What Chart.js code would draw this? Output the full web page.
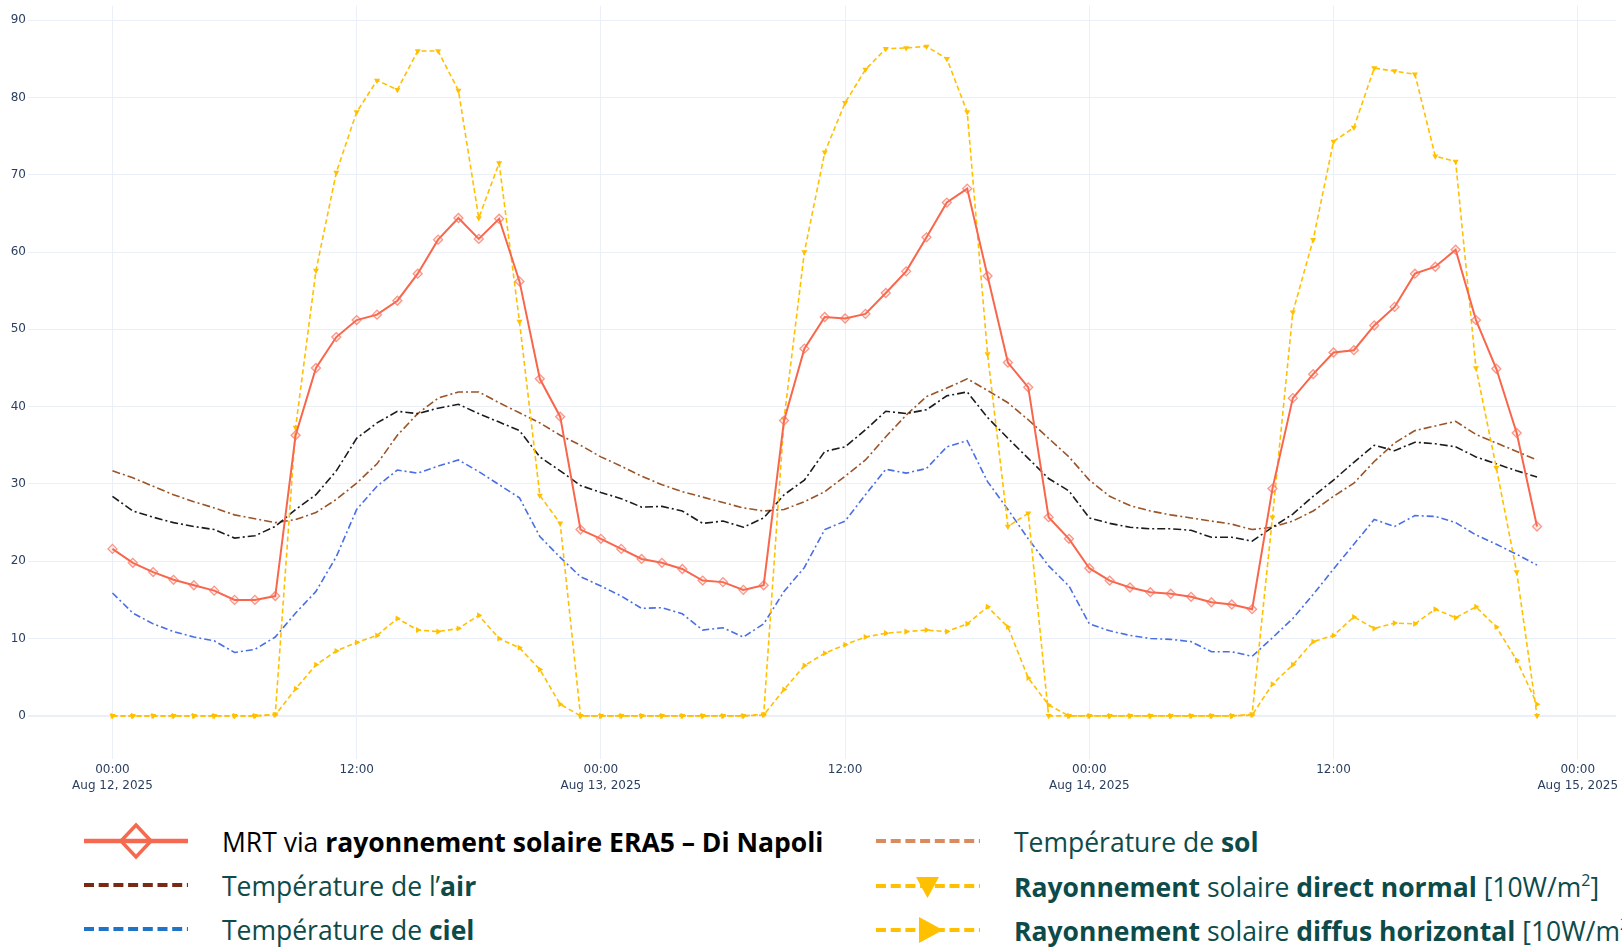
<!DOCTYPE html>
<html lang="fr">
<head>
<meta charset="utf-8">
<title>MRT via rayonnement solaire ERA5</title>
<script src="https://cdn.jsdelivr.net/npm/chart.js@4.4.1/dist/chart.umd.min.js"></script>
<style>
  html, body { margin: 0; padding: 0; background: #fff; }
  body { width: 1622px; height: 947px; position: relative; overflow: hidden; }
  #chartBox { position: absolute; left: 0; top: 0; width: 1622px; height: 800px; }
  .lg { position: absolute; height: 40px; width: 760px; }
  .lg svg { position: absolute; left: 0; top: 0; }
  .lg .txt { position: absolute; top: 1px; line-height: 40px; white-space: nowrap;
             font-family: "Open Sans", sans-serif; font-size: 26.5px; color: #0d4b4b; }
  .lg .txt b { font-weight: 700; }
  .lg .txt sup { font-size: 16px; line-height: 0; vertical-align: 11px; }
</style>
</head>
<body>
<div id="chartBox"><canvas id="chart"></canvas></div>

<!-- legend, left column -->
<div class="lg" style="left:84px; top:821px;">
  <svg width="106" height="40">
    <line x1="0" y1="20" x2="104" y2="20" stroke="#f4694f" stroke-width="4.5"/>
    <polygon points="52,4 67,20 52,36 37,20" fill="none" stroke="#f4694f" stroke-width="3.5"/>
  </svg>
  <span class="txt" style="left:138px; color:#000;">MRT via <b>rayonnement solaire ERA5 – Di Napoli</b></span>
</div>
<div class="lg" style="left:84px; top:865px;">
  <svg width="106" height="40">
    <line x1="0" y1="20" x2="104" y2="20" stroke="#7a2a14" stroke-width="4" stroke-dasharray="10,4.7"/>
  </svg>
  <span class="txt" style="left:138px;">Température de l’<b>air</b></span>
</div>
<div class="lg" style="left:84px; top:909px;">
  <svg width="106" height="40">
    <line x1="0" y1="20" x2="104" y2="20" stroke="#1f74c8" stroke-width="4" stroke-dasharray="10,4.7"/>
  </svg>
  <span class="txt" style="left:138px;">Température de <b>ciel</b></span>
</div>

<!-- legend, right column -->
<div class="lg" style="left:876px; top:821px;">
  <svg width="106" height="40">
    <line x1="0" y1="20" x2="104" y2="20" stroke="#d98a5e" stroke-width="4" stroke-dasharray="10,4.7"/>
  </svg>
  <span class="txt" style="left:138px;">Température de <b>sol</b></span>
</div>
<div class="lg" style="left:876px; top:866px;">
  <svg width="106" height="40">
    <line x1="0" y1="20" x2="104" y2="20" stroke="#ffc000" stroke-width="4" stroke-dasharray="10,4.7"/>
    <polygon points="40,11 63,11 51.5,32" fill="#ffc000"/>
  </svg>
  <span class="txt" style="left:138px;"><b>Rayonnement</b> solaire <b>direct normal</b> [10W/m<sup>2</sup>]</span>
</div>
<div class="lg" style="left:876px; top:910px;">
  <svg width="106" height="40">
    <line x1="0" y1="20" x2="104" y2="20" stroke="#ffc000" stroke-width="4" stroke-dasharray="10,4.7"/>
    <polygon points="43,7 67,20 43,33" fill="#ffc000"/>
  </svg>
  <span class="txt" style="left:138px;"><b>Rayonnement</b> solaire <b>diffus horizontal</b> [10W/m<sup>2</sup>]</span>
</div>

<script>
// hours since Aug 12, 2025 00:00
const hours = [0, 1, 2, 3, 4, 5, 6, 7, 8, 9, 10, 11, 12, 13, 14, 15, 16, 17, 18, 19, 20, 21, 22, 23,
    24, 25, 26, 27, 28, 29, 30, 31, 32, 33, 34, 35, 36, 37, 38, 39, 40, 41, 42, 43, 44, 45, 46, 47,
    48, 49, 50, 51, 52, 53, 54, 55, 56, 57, 58, 59, 60, 61, 62, 63, 64, 65, 66, 67, 68, 69, 70];

const mrt = [21.6, 19.8, 18.6, 17.6, 16.9, 16.2, 15.0, 15.0, 15.5, 36.3, 45.0, 49.0, 51.2, 51.9, 53.7, 57.2,
    61.6, 64.4, 61.7, 64.3, 56.2, 43.6, 38.7, 24.1, 22.9, 21.6, 20.3, 19.8, 19.0, 17.5, 17.3, 16.3,
    16.9, 38.2, 47.5, 51.6, 51.4, 52.0, 54.7, 57.5, 61.9, 66.4, 68.2, 56.9, 45.7, 42.5, 25.7, 22.9,
    19.1, 17.5, 16.6, 16.0, 15.8, 15.4, 14.7, 14.4, 13.8, 29.4, 41.1, 44.2, 47.0, 47.3, 50.5, 52.9,
    57.2, 58.1, 60.3, 51.2, 44.9, 36.6, 24.5];

const airTemp = [28.4, 26.5, 25.7, 25.0, 24.5, 24.1, 23.0, 23.3, 24.5, 26.7, 28.6, 31.7, 35.9, 37.9, 39.4, 39.1,
    39.8, 40.3, 39.1, 38.0, 36.9, 33.5, 31.7, 29.8, 28.9, 28.1, 27.0, 27.1, 26.5, 24.9, 25.2, 24.4,
    25.6, 28.6, 30.5, 34.2, 34.8, 37.0, 39.4, 39.1, 39.6, 41.4, 41.9, 38.6, 35.9, 33.3, 30.7, 29.1,
    25.6, 24.9, 24.4, 24.2, 24.2, 24.0, 23.1, 23.1, 22.6, 24.4, 26.1, 28.4, 30.5, 32.8, 35.0, 34.3,
    35.4, 35.2, 34.8, 33.5, 32.6, 31.7, 30.9];

const skyTemp = [15.9, 13.3, 11.9, 10.9, 10.2, 9.7, 8.2, 8.6, 10.2, 13.3, 16.1, 20.6, 26.7, 29.7, 31.8, 31.4,
    32.3, 33.1, 31.6, 29.9, 28.2, 23.2, 20.5, 18.0, 16.8, 15.5, 13.9, 14.0, 13.2, 11.1, 11.4, 10.2,
    11.9, 16.1, 19.2, 24.1, 25.2, 28.6, 31.9, 31.4, 32.0, 34.8, 35.6, 30.3, 26.7, 22.9, 19.4, 16.8,
    11.9, 11.0, 10.4, 10.0, 9.9, 9.6, 8.3, 8.3, 7.7, 10.1, 12.6, 15.7, 19.0, 22.2, 25.4, 24.5,
    25.9, 25.8, 25.0, 23.4, 22.2, 20.9, 19.5];

const groundTemp = [31.7, 30.8, 29.7, 28.6, 27.7, 26.9, 26.0, 25.5, 25.0, 25.4, 26.3, 28.0, 30.1, 32.6, 36.3, 39.1,
    41.1, 41.9, 41.9, 40.5, 39.2, 37.9, 36.3, 35.0, 33.5, 32.3, 31.0, 29.9, 29.0, 28.3, 27.6, 26.9,
    26.5, 26.7, 27.7, 29.0, 31.0, 33.1, 36.1, 38.9, 41.3, 42.4, 43.6, 42.1, 40.5, 38.3, 35.9, 33.5,
    30.5, 28.4, 27.2, 26.5, 26.0, 25.6, 25.2, 24.8, 24.1, 24.4, 25.2, 26.5, 28.4, 30.1, 32.9, 35.3,
    36.9, 37.5, 38.1, 36.4, 35.3, 34.2, 33.1];

// solar radiation, in units of 10 W/m2
const directNormal = [0, 0, 0, 0, 0, 0, 0, 0, 0.2, 37.3, 57.6, 70.3, 78.1, 82.2, 81.0, 86.0,
    86.0, 80.9, 64.4, 71.5, 51.0, 28.5, 24.9, 0, 0, 0, 0, 0, 0, 0, 0, 0,
    0.2, 38.4, 60.0, 72.9, 79.3, 83.6, 86.3, 86.4, 86.6, 85.0, 78.1, 46.8, 24.5, 26.2, 0, 0,
    0, 0, 0, 0, 0, 0, 0, 0, 0.2, 25.7, 52.2, 61.6, 74.3, 76.1, 83.8, 83.4,
    83.0, 72.4, 71.7, 45.0, 32.1, 18.6, 0];

const diffuseHoriz = [0, 0, 0, 0, 0, 0, 0, 0, 0.1, 3.5, 6.6, 8.4, 9.5, 10.4, 12.6, 11.1,
    10.9, 11.3, 13.0, 10.0, 8.8, 6.0, 1.5, 0, 0, 0, 0, 0, 0, 0, 0, 0,
    0.1, 3.4, 6.5, 8.1, 9.2, 10.2, 10.7, 10.9, 11.1, 10.9, 11.9, 14.1, 11.5, 4.9, 1.4, 0,
    0, 0, 0, 0, 0, 0, 0, 0, 0.1, 4.1, 6.6, 9.6, 10.4, 12.8, 11.3, 12.0,
    11.9, 13.8, 12.7, 14.1, 11.5, 7.2, 1.5];

// axis ticks
const xTickHours = [0, 12, 24, 36, 48, 60, 72];
const xTickTimes = ['00:00', '12:00', '00:00', '12:00', '00:00', '12:00', '00:00'];
const xTickDates = ['Aug 12, 2025', '', 'Aug 13, 2025', '', 'Aug 14, 2025', '', 'Aug 15, 2025'];
const yTickValues = [0, 10, 20, 30, 40, 50, 60, 70, 80, 90];

const toPoints = values => hours.map((h, i) => ({ x: h, y: values[i] }));

const GOLD = '#ffc000';
const gridColor = '#ebf0f8';
const tickColor = '#2a3f5f';

// drop the label padding chart.js adds at the axis ends
const noEdgePadding = scale => {
    scale.paddingTop = 0;
    scale.paddingBottom = 0;
    scale.paddingLeft = 0;
    scale.paddingRight = 0;
};

const ctx = document.getElementById('chart').getContext('2d');
new Chart(ctx, {
    type: 'line',
    data: {
        datasets: [
            {
                label: 'MRT via rayonnement solaire ERA5 – Di Napoli',
                data: toPoints(mrt),
                borderColor: '#f8674c',
                borderWidth: 2,
                pointStyle: 'rectRot',
                pointRadius: 4.5,
                pointBorderWidth: 1.3,
                pointBorderColor: 'rgba(248, 110, 90, 0.7)',
                pointBackgroundColor: 'rgba(255, 120, 100, 0.12)',
            },
            {
                label: 'Rayonnement solaire direct normal',
                data: toPoints(directNormal),
                borderColor: GOLD,
                borderWidth: 1.6,
                borderDash: [5, 3],
                pointStyle: 'triangle',
                rotation: 180,
                pointRadius: 3.5,
                pointBorderWidth: 0,
                pointBackgroundColor: GOLD,
            },
            {
                label: 'Rayonnement solaire diffus horizontal',
                data: toPoints(diffuseHoriz),
                borderColor: GOLD,
                borderWidth: 1.6,
                borderDash: [5, 3],
                pointStyle: 'triangle',
                rotation: 90,
                pointRadius: 3.5,
                pointBorderWidth: 0,
                pointBackgroundColor: GOLD,
            },
            {
                label: "Température de l'air",
                data: toPoints(airTemp),
                borderColor: '#1c1c1c',
                borderWidth: 1.6,
                borderDash: [8, 3, 2, 3],
                pointRadius: 0,
            },
            {
                label: 'Température de sol',
                data: toPoints(groundTemp),
                borderColor: '#9a5428',
                borderWidth: 1.6,
                borderDash: [8, 3, 2, 3],
                pointRadius: 0,
            },
            {
                label: 'Température de ciel',
                data: toPoints(skyTemp),
                borderColor: '#4a6fe3',
                borderWidth: 1.6,
                borderDash: [7, 3, 2, 3],
                pointRadius: 0,
            },
        ],
    },
    options: {
        responsive: true,
        maintainAspectRatio: false,
        animation: false,
        layout: { padding: { top: 4, right: 0, bottom: 0, left: 0 } },
        plugins: {
            legend: { display: false }, // legend is drawn in HTML below (mixed bold text)
            tooltip: { enabled: false },
        },
        scales: {
            x: {
                type: 'linear',
                min: -4.15,
                max: 73.89,
                grid: { color: gridColor, drawTicks: false },
                border: { display: false },
                afterBuildTicks: scale => { scale.ticks = xTickHours.map(v => ({ value: v })); },
                afterFit: scale => { scale.height = 41; noEdgePadding(scale); },
                ticks: {
                    padding: 3,
                    color: tickColor,
                    maxRotation: 0,
                    autoSkip: false,
                    font: { family: 'DejaVu Sans', size: 12, lineHeight: 1.33 },
                    callback: (value) => {
                        const i = xTickHours.indexOf(value);
                        if (i < 0) return '';
                        return xTickDates[i] ? [xTickTimes[i], xTickDates[i]] : xTickTimes[i];
                    },
                },
            },
            y: {
                min: -5.58,
                max: 91.85,
                grid: {
                    color: gridColor,
                    lineWidth: c => (c.tick && c.tick.value === 0 ? 2 : 1),
                    drawTicks: false,
                },
                border: { display: false },
                afterBuildTicks: scale => { scale.ticks = yTickValues.map(v => ({ value: v })); },
                afterFit: scale => { scale.width = 28; noEdgePadding(scale); },
                ticks: {
                    padding: 2,
                    color: tickColor,
                    font: { family: 'DejaVu Sans', size: 12 },
                },
            },
        },
    },
});
</script>
</body>
</html>
